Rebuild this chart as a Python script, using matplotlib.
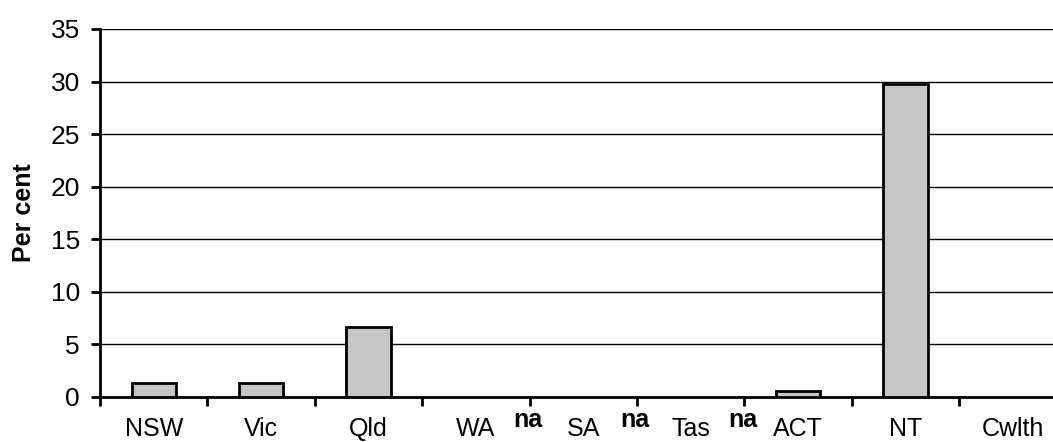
import matplotlib
matplotlib.use("Agg")
import matplotlib.pyplot as plt
import numpy as np

categories = ["NSW", "Vic", "Qld", "WA", "SA", "Tas", "ACT", "NT", "Cwlth"]
values = [1.3, 1.3, 6.7, None, None, None, 0.6, 29.8, 0.0]
na_labels = ["", "", "", "na", "na", "na", "", "", ""]
yticks = [0, 5, 10, 15, 20, 25, 30, 35]

plt.rcParams['font.family'] = ['Liberation Sans', 'DejaVu Sans']

fig = plt.figure(figsize=(10.53, 4.42), dpi=100)
ax = fig.add_axes([100/1053, 45/442, 966.6/1053, 368/442])

x = np.arange(len(categories))
for xi, v in zip(x, values):
    if v is not None and v > 0:
        ax.bar(xi, v, width=0.41, color='#c6c6c6', edgecolor='black',
               linewidth=2, zorder=3)

for xi, lab in zip(x, na_labels):
    if lab:
        ax.text(xi + 0.484, -2.9, lab, ha='center', va='baseline',
                fontsize=18, fontweight='bold', clip_on=False)

ax.set_xlim(-0.5, len(categories) - 0.5)
ax.set_ylim(0, 35)
ax.set_yticks(yticks)
ax.set_yticklabels([str(t) for t in yticks], fontsize=19)
ax.yaxis.grid(True, color='black', linewidth=1, zorder=0)
ax.set_axisbelow(True)

ax.set_xticks(np.arange(len(categories) + 1) - 0.5)
ax.set_xticklabels([])
ax.set_xticks(x, minor=True)
ax.set_xticklabels(categories, minor=True, fontsize=18)
ax.tick_params(axis='x', which='minor', length=0, pad=14.5)
ax.tick_params(axis='x', which='major', length=6.5, width=2, direction='out')
ax.tick_params(axis='y', length=6.5, width=2, direction='out', pad=8)

for s in ['top', 'right']:
    ax.spines[s].set_visible(False)
ax.spines['left'].set_linewidth(2)
ax.spines['bottom'].set_linewidth(2)

ax.set_ylabel('Per cent', fontsize=18, fontweight='bold')
ax.yaxis.set_label_coords(-64/966.6, 0.5)

fig.savefig('out.png', dpi=100)
